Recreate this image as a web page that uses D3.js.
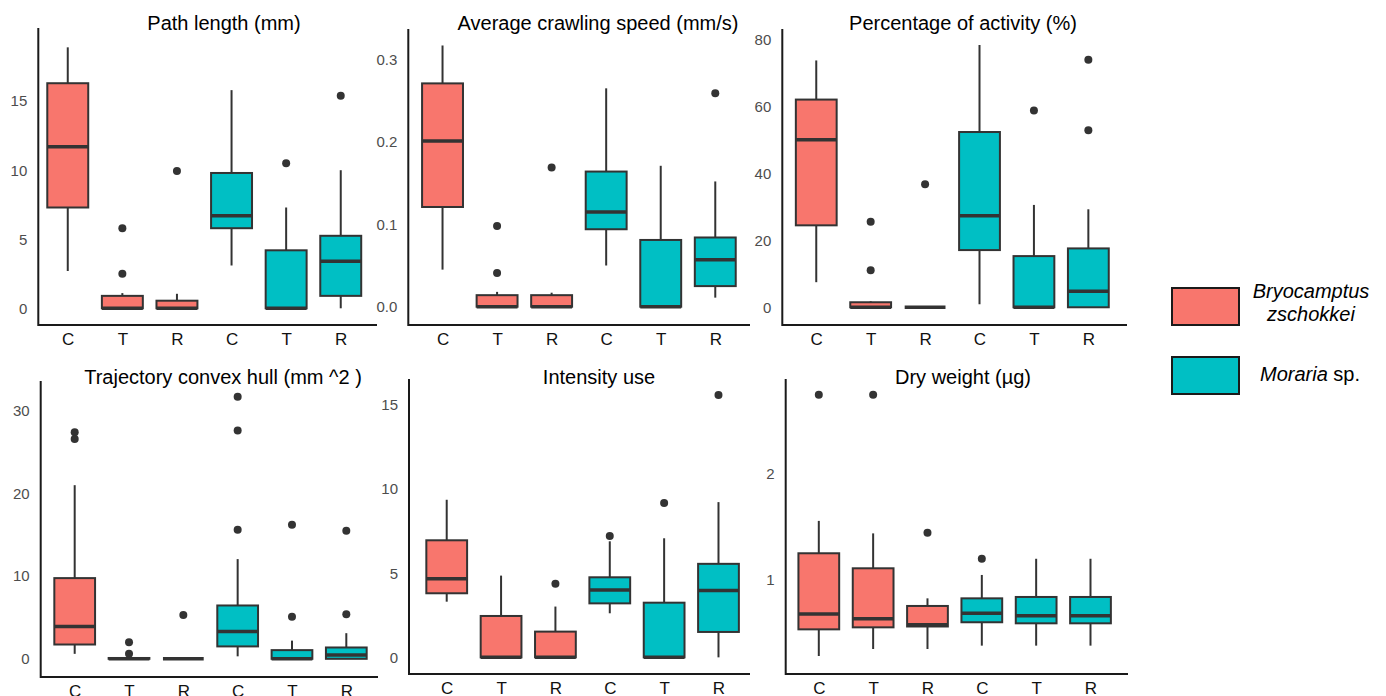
<!DOCTYPE html>
<html>
<head>
<meta charset="utf-8">
<script src="https://cdn.jsdelivr.net/npm/d3@7"></script>
<style>
  body { margin: 0; background: #fff; }
  text { font-family: "Liberation Sans", Arial, sans-serif; }
</style>
</head>
<body>
<div id="chart"></div>
<script>
// groups along every x axis
var treatments = ["C", "T", "R", "C", "T", "R"];
var species = ["B", "B", "B", "M", "M", "M"];
var titles = ["Path length (mm)", "Average crawling speed (mm/s)", "Percentage of activity (%)",
              "Trajectory convex hull (mm ^2 )", "Intensity use", "Dry weight (\u00b5g)"];

// box stats per group: [lower whisker, q1, median, q3, upper whisker]
var pathLength = [[2.7, 7.3, 11.7, 16.3, 18.9], [0, 0, 0, 0.9, 1.1], [0, 0, 0, 0.55, 1.05],
                  [3.1, 5.8, 6.7, 9.8, 15.8], [0, 0, 0, 4.2, 7.3], [0, 0.9, 3.4, 5.25, 10.0]];
var pathLengthOut = [[], [5.8, 2.5], [9.95], [], [10.5], [15.4]];

var speed = [[0.045, 0.121, 0.201, 0.271, 0.317], [0, 0, 0, 0.014, 0.018], [0, 0, 0, 0.014, 0.017],
             [0.050, 0.094, 0.115, 0.164, 0.265], [0, 0, 0, 0.081, 0.171], [0.011, 0.025, 0.057, 0.084, 0.152]];
var speedOut = [[], [0.098, 0.041], [0.169], [], [], [0.259]];

var activity = [[7.5, 24.5, 50.1, 62.1, 73.8], [0, 0, 0, 1.5, 1.8], [0, 0, 0, 0, 0],
                [0.9, 17.1, 27.4, 52.4, 78.4], [0, 0, 0, 15.3, 30.6], [0, 0, 4.8, 17.6, 29.3]];
var activityOut = [[], [25.6, 11.1], [36.8], [], [58.8], [74.0, 52.9]];

var hull = [[0.6, 1.73, 3.9, 9.76, 21.0], [0, 0, 0, 0.1, 0.1], [0, 0, 0, 0, 0],
            [0.3, 1.5, 3.3, 6.45, 12.06], [0, 0, 0, 1.05, 2.2], [0, 0, 0.45, 1.37, 3.1]];
var hullOut = [[27.4, 26.6], [2.0, 0.6], [5.3], [31.7, 27.6, 15.6], [16.2, 5.1], [15.5, 5.4]];

var intensity = [[3.31, 3.81, 4.68, 6.96, 9.37], [0, 0, 0, 2.46, 4.86], [0, 0, 0, 1.53, 3.02],
                 [2.62, 3.21, 4.0, 4.76, 6.9], [0, 0, 0, 3.25, 7.08], [0, 1.51, 3.97, 5.56, 9.23]];
var intensityOut = [[], [], [4.37], [7.22], [9.17], [15.6]];

var dryWeight = [[0.281, 0.533, 0.678, 1.252, 1.558], [0.347, 0.552, 0.634, 1.11, 1.44], [0.347, 0.56, 0.577, 0.754, 0.826],
                 [0.379, 0.6, 0.685, 0.826, 1.047], [0.379, 0.59, 0.662, 0.839, 1.2], [0.379, 0.59, 0.662, 0.839, 1.2]];
var dryWeightOut = [[2.75], [2.75], [1.445], [1.20], [], []];

// y tick labels
var ticks = [[0, 5, 10, 15], [0, 0.1, 0.2, 0.3], [0, 20, 40, 60, 80],
             [0, 10, 20, 30], [0, 5, 10, 15], [1, 2]];
var tickFormats = ["d", ".1f", "d", "d", "d", "d"];

var stats = [pathLength, speed, activity, hull, intensity, dryWeight];
var outliers = [pathLengthOut, speedOut, activityOut, hullOut, intensityOut, dryWeightOut];

var colors = {B: "#F8766D", M: "#00BFC4"};

// panel placement
var layout = [
  {axisX: 38.3, axisEnd: 377, x0: 35.0, x1: 373.5, top: 28, bottom: 325, dom: [-1.21, 20.3], titleX: 224, titleY: 29.5},
  {axisX: 408.3, axisEnd: 750, x0: 409.8, x1: 748, top: 29, bottom: 325, dom: [-0.0222, 0.337], titleX: 598, titleY: 29.5},
  {axisX: 782.3, axisEnd: 1127, x0: 783.6, x1: 1121, top: 29, bottom: 325, dom: [-5.3, 83.2], titleX: 963, titleY: 29.5},
  {axisX: 40.7, axisEnd: 378, x0: 42.1, x1: 378.9, top: 381, bottom: 677, dom: [-2.2, 33.6], titleX: 223, titleY: 384},
  {axisX: 409, axisEnd: 750, x0: 414.1, x1: 751.1, top: 379, bottom: 674, dom: [-0.99, 16.55], titleX: 599, titleY: 384},
  {axisX: 785.7, axisEnd: 1128, x0: 786.2, x1: 1123.1, top: 379, bottom: 674, dom: [0.111, 2.899], titleX: 963, titleY: 384}
];

var svg = d3.select("#chart").append("svg")
    .attr("width", 1386)
    .attr("height", 696);

layout.forEach(function(p, i){
    var g = svg.append("g");

    var x = d3.scalePoint()
        .domain(d3.range(6))
        .range([p.x0, p.x1])
        .padding(0.6);
    var y = d3.scaleLinear()
        .domain(p.dom)
        .range([p.bottom, p.top]);
    var boxWidth = x.step() * 0.75;

    // y axis
    var ya = g.append("g")
        .attr("transform", "translate(" + p.axisX + ",0)")
        .call(d3.axisLeft(y).tickValues(ticks[i]).tickFormat(d3.format(tickFormats[i])).tickSize(0).tickPadding(11));
    ya.select(".domain").remove();
    ya.selectAll("text")
        .style("font-size", "15px")
        .attr("fill", "#4d4d4d");

    // x axis
    var xa = g.append("g")
        .attr("transform", "translate(0," + p.bottom + ")")
        .call(d3.axisBottom(x).tickFormat(function(d){ return treatments[d]; }).tickSize(0).tickPadding(8));
    xa.select(".domain").remove();
    xa.selectAll("text")
        .style("font-size", "17px")
        .attr("fill", "#111");

    g.append("path")
        .attr("d", "M" + p.axisX + "," + p.top + "V" + p.bottom + "H" + p.axisEnd)
        .attr("fill", "none")
        .attr("stroke", "#1a1a1a")
        .attr("stroke-width", 2);

    var data = stats[i].map(function(s, k){
        return {k: k, lower: s[0], q1: s[1], median: s[2], q3: s[3], upper: s[4]};
    });

    // whiskers
    g.selectAll("vertLines")
        .data(data)
        .enter()
        .append("line")
          .attr("x1", function(d){ return x(d.k); })
          .attr("x2", function(d){ return x(d.k); })
          .attr("y1", function(d){ return y(d.lower); })
          .attr("y2", function(d){ return y(d.upper); })
          .attr("stroke", "#333333")
          .attr("stroke-width", 2);

    // boxes
    g.selectAll("boxes")
        .data(data)
        .enter()
        .append("rect")
          .attr("x", function(d){ return x(d.k) - boxWidth / 2; })
          .attr("y", function(d){ return y(d.q3); })
          .attr("height", function(d){ return y(d.q1) - y(d.q3); })
          .attr("width", boxWidth)
          .attr("stroke", "#333333")
          .attr("stroke-width", 2)
          .style("fill", function(d){ return colors[species[d.k]]; });

    // medians
    g.selectAll("medianLines")
        .data(data)
        .enter()
        .append("line")
          .attr("x1", function(d){ return x(d.k) - boxWidth / 2; })
          .attr("x2", function(d){ return x(d.k) + boxWidth / 2; })
          .attr("y1", function(d){ return y(d.median); })
          .attr("y2", function(d){ return y(d.median); })
          .attr("stroke", "#333333")
          .attr("stroke-width", 3.5);

    // outliers
    var pts = [];
    outliers[i].forEach(function(arr, k){
        arr.forEach(function(v){ pts.push({k: k, v: v}); });
    });
    g.selectAll("outliers")
        .data(pts)
        .enter()
        .append("circle")
          .attr("cx", function(d){ return x(d.k); })
          .attr("cy", function(d){ return y(d.v); })
          .attr("r", 4)
          .attr("fill", "#333333");

    // title
    g.append("text")
        .attr("x", p.titleX)
        .attr("y", p.titleY)
        .attr("text-anchor", "middle")
        .style("font-size", "20px")
        .attr("fill", "#000")
        .text(titles[i]);
});

// legend
var legend = svg.append("g");
legend.append("rect")
    .attr("x", 1172).attr("y", 288).attr("width", 67).attr("height", 37)
    .attr("fill", colors.B).attr("stroke", "#1a1a1a").attr("stroke-width", 2);
legend.append("rect")
    .attr("x", 1172).attr("y", 357).attr("width", 67).attr("height", 37)
    .attr("fill", colors.M).attr("stroke", "#1a1a1a").attr("stroke-width", 2);

legend.append("text")
    .attr("x", 1311).attr("y", 298)
    .attr("text-anchor", "middle")
    .style("font-size", "20px").style("font-style", "italic")
    .text("Bryocamptus");
legend.append("text")
    .attr("x", 1311).attr("y", 321)
    .attr("text-anchor", "middle")
    .style("font-size", "20px").style("font-style", "italic")
    .text("zschokkei");
var mor = legend.append("text")
    .attr("x", 1260).attr("y", 381)
    .style("font-size", "20px");
mor.append("tspan").style("font-style", "italic").text("Moraria");
mor.append("tspan").text(" sp.");
</script>
</body>
</html>
